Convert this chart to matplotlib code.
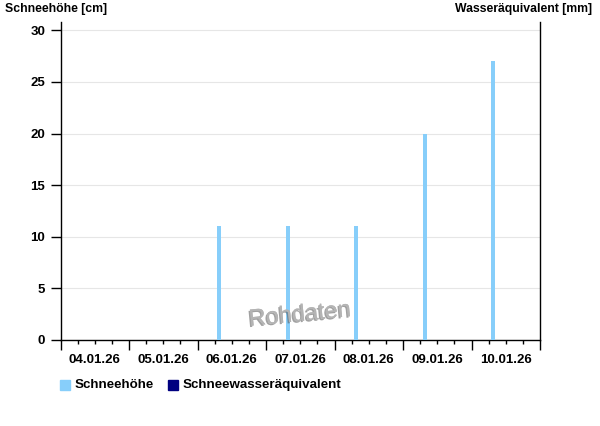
import matplotlib
matplotlib.use("Agg")
import matplotlib.pyplot as plt
import matplotlib.patheffects as pe
from datetime import datetime, timedelta

plt.rcParams['font.family'] = ['Liberation Sans', 'DejaVu Sans']

# Data
times = ["2026-01-06 07:40", "2026-01-07 07:40", "2026-01-08 07:40",
         "2026-01-09 07:40", "2026-01-10 07:40"]
snow_depth = [11, 11, 11, 20, 27]
tick_days = ["04.01.26", "05.01.26", "06.01.26", "07.01.26", "08.01.26", "09.01.26", "10.01.26"]
y_ticks = [0, 5, 10, 15, 20, 25, 30]

x = [datetime.strptime(t, "%Y-%m-%d %H:%M") for t in times]
start = datetime(2026, 1, 4)
end = datetime(2026, 1, 11)

fig = plt.figure(figsize=(6, 4.26), dpi=100)
ax = fig.add_axes([60.5/600, 1-340/426, (540-60.5)/600, (340-22)/426])

ax.bar(x, snow_depth, width=timedelta(hours=1.4), color='#87CEFA', zorder=3)

ax.set_xlim(start, end)
ax.set_ylim(0, 30.8)
ax.set_yticks(y_ticks)
ax.set_yticklabels([str(v) for v in y_ticks], fontsize=9.5, fontweight='bold')
ax.grid(axis='y', color='#e6e6e6', linewidth=0.8, zorder=0)
ax.set_axisbelow(True)

major = [start + timedelta(days=i) for i in range(8)]
minor = [start + timedelta(hours=6*i) for i in range(29)]
ax.set_xticks(major)
ax.set_xticklabels([])
ax.set_xticks(minor, minor=True)
ax.tick_params(axis='x', which='major', length=7, width=1, direction='out')
ax.tick_params(axis='x', which='minor', length=3, width=1, direction='out')
ax.tick_params(axis='y', length=7, width=1, direction='out', pad=4)
for i, lab in enumerate(tick_days):
    ax.text(start + timedelta(days=i, hours=12), -0.043, lab, transform=ax.get_xaxis_transform(),
            ha='center', va='top', fontsize=9.5, fontweight='bold')

ax.spines['top'].set_visible(False)
for s in ['left', 'right', 'bottom']:
    ax.spines[s].set_color('black')
    ax.spines[s].set_linewidth(1)

fig.text(5/600, 1-9/426, "Schneehöhe [cm]", ha='left', va='center', fontsize=8.8, fontweight='bold')
fig.text(592/600, 1-9/426, "Wasseräquivalent [mm]", ha='right', va='center', fontsize=8.8, fontweight='bold')

# Watermark
fig.text(300/600, 1-315/426, "Rohdaten", ha='center', va='center', fontsize=17, color='#b4b4b4',
         rotation=5.5, path_effects=[pe.withSimplePatchShadow(offset=(-1, -1), shadow_rgbFace='#555555', alpha=0.55),
                                     pe.Normal()])

# Legend
fig.patches.append(plt.Rectangle((60/600, 1-390/426), 10/600, 10/426, transform=fig.transFigure,
                                 color='#87CEFA', figure=fig))
fig.text(75/600, 1-385/426, "Schneehöhe", ha='left', va='center', fontsize=9.6, fontweight='bold')
fig.patches.append(plt.Rectangle((168/600, 1-390/426), 10/600, 10/426, transform=fig.transFigure,
                                 color='#000080', figure=fig))
fig.text(183/600, 1-385/426, "Schneewasseräquivalent", ha='left', va='center', fontsize=9.6, fontweight='bold')

fig.savefig("out.png", dpi=100)
